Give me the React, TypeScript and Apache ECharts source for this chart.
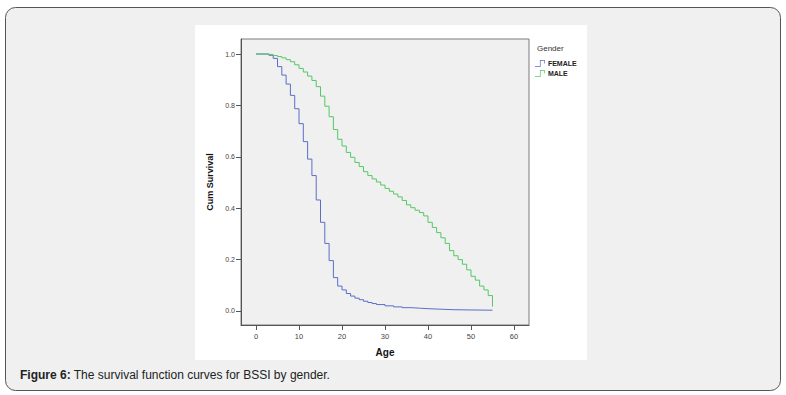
import React, { useEffect, useRef } from "react";
import * as echarts from "echarts";

const femaleAges = [0, 3, 4, 5, 6, 7, 8, 9, 10, 11, 12, 13, 14, 15, 16, 17, 18, 19, 20, 21, 22, 23, 24, 25, 26, 27, 28, 30, 32, 34, 36, 38, 40, 43, 46, 50, 55];
const femaleSurv = [1.0, 0.995, 0.983, 0.951, 0.918, 0.883, 0.839, 0.787, 0.729, 0.659, 0.591, 0.527, 0.432, 0.345, 0.263, 0.196, 0.13, 0.097, 0.082, 0.068, 0.058, 0.05, 0.044, 0.038, 0.033, 0.029, 0.025, 0.02, 0.016, 0.013, 0.011, 0.009, 0.007, 0.005, 0.004, 0.003, 0.002];

const maleAges = [0, 2, 4, 5, 6, 7, 8, 9, 10, 11, 12, 13, 14, 15, 16, 17, 18, 19, 20, 21, 22, 23, 24, 25, 26, 27, 28, 29, 30, 31, 32, 33, 34, 35, 36, 37, 38, 39, 40, 41, 42, 43, 44, 45, 46, 47, 48, 49, 50, 51, 52, 53, 54, 55];
const maleSurv = [1.0, 0.998, 0.994, 0.99, 0.985, 0.978, 0.97, 0.958, 0.944, 0.93, 0.914, 0.897, 0.873, 0.836, 0.797, 0.756, 0.706, 0.668, 0.642, 0.617, 0.598, 0.578, 0.562, 0.542, 0.527, 0.514, 0.502, 0.49, 0.477, 0.466, 0.455, 0.444, 0.43, 0.413, 0.402, 0.392, 0.383, 0.37, 0.345, 0.325, 0.305, 0.285, 0.263, 0.235, 0.215, 0.2, 0.182, 0.16, 0.135, 0.12, 0.097, 0.082, 0.06, 0.017];

const xTickValues = [0, 10, 20, 30, 40, 50, 60];
const yTickValues = [0, 0.2, 0.4, 0.6, 0.8, 1.0];
const xRange = { min: -3.49, max: 63.49 };
const yRange = { min: -0.0545, max: 1.0584 };

const caption = { bold: "Figure 6:", rest: " The survival function curves for BSSI by gender." };

export default function App() {
  const ref = useRef<HTMLDivElement>(null);
  useEffect(() => {
    if (!ref.current) return;
    const chart = echarts.init(ref.current, null, { renderer: "svg" });
    const font = "'Liberation Sans', Arial, sans-serif";
    const stepIcon = "path://M0,9 L7,9 L7,0 L14,0 L14,5 L13,5 L13,1 L8,1 L8,10 L0,10 Z";
    chart.setOption({
      animation: false,
      textStyle: { fontFamily: font },
      graphic: [
        {
          type: "rect",
          z: -10,
          shape: { x: 5.5, y: 7.5, width: 775, height: 383, r: 10 },
          style: { fill: "#f0f0f0", stroke: "#555", lineWidth: 1 },
          silent: true,
        },
        {
          type: "rect",
          z: -9,
          shape: { x: 195, y: 25, width: 392, height: 335 },
          style: { fill: "#ffffff" },
          silent: true,
        },
        {
          type: "text",
          x: 537,
          y: 44,
          style: { text: "Gender", fill: "#333", font: `8px ${font}` },
          silent: true,
        },
        {
          type: "text",
          x: 20,
          y: 369,
          style: {
            text: `{b|${caption.bold}}{n|${caption.rest}}`,
            rich: {
              b: { fontWeight: "bold", fontSize: 12, fill: "#222", fontFamily: font },
              n: { fontSize: 12, fill: "#222", fontFamily: font },
            },
          },
          silent: true,
        },
      ],
      legend: {
        left: 530,
        top: 55,
        orient: "vertical",
        itemWidth: 14,
        itemHeight: 7,
        itemGap: 3,
        icon: stepIcon,
        textStyle: { fontSize: 7, color: "#222", fontWeight: "bold", padding: [0, 0, 0, -4] },
        data: ["FEMALE", "MALE"],
      },
      grid: {
        left: 241,
        top: 39,
        width: 288,
        height: 286,
        show: true,
        backgroundColor: "#f0f0f0",
        borderColor: "#7a7a7a",
        borderWidth: 1,
      },
      xAxis: {
        type: "value",
        min: xRange.min,
        max: xRange.max,
        name: "Age",
        nameLocation: "middle",
        nameGap: 22,
        nameTextStyle: { fontWeight: "bold", fontSize: 10, color: "#111" },
        axisLine: { show: true, onZero: false, lineStyle: { color: "#555" } },
        axisTick: { show: true, length: 5, lineStyle: { color: "#555" }, customValues: xTickValues },
        axisLabel: { fontSize: 7.5, color: "#444", margin: 7, customValues: xTickValues },
        splitLine: { show: false },
      },
      yAxis: {
        type: "value",
        min: yRange.min,
        max: yRange.max,
        name: "Cum Survival",
        nameLocation: "middle",
        nameGap: 27,
        nameTextStyle: { fontWeight: "bold", fontSize: 9, color: "#111" },
        axisLine: { show: true, onZero: false, lineStyle: { color: "#555" } },
        axisTick: { show: true, length: 5, lineStyle: { color: "#555" }, customValues: yTickValues },
        axisLabel: {
          fontSize: 7,
          color: "#444",
          margin: 6,
          customValues: yTickValues,
          formatter: (v: number) => v.toFixed(1),
        },
        splitLine: { show: false },
      },
      series: [
        {
          name: "FEMALE",
          type: "line",
          step: "end",
          showSymbol: false,
          symbol: "none",
          color: "#5b6ec8",
          lineStyle: { width: 1, color: "#5b6ec8" },
          data: femaleAges.map((a, i) => [a, femaleSurv[i]]),
        },
        {
          name: "MALE",
          type: "line",
          step: "end",
          showSymbol: false,
          symbol: "none",
          color: "#55c865",
          lineStyle: { width: 1, color: "#55c865" },
          data: maleAges.map((a, i) => [a, maleSurv[i]]),
        },
      ],
    });
    return () => chart.dispose();
  }, []);
  return <div ref={ref} style={{ position: "absolute", left: 0, top: 0, width: 786, height: 395 }} />;
}
